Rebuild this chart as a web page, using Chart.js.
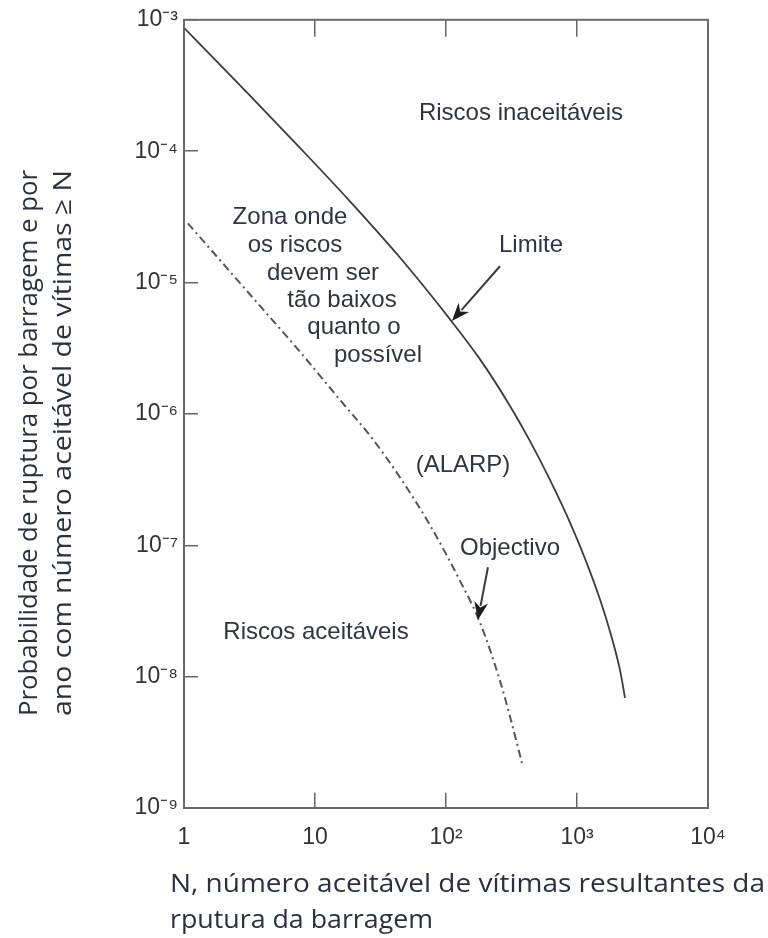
<!DOCTYPE html>
<html>
<head>
<meta charset="utf-8">
<script src="https://cdn.jsdelivr.net/npm/chart.js@4"></script>
<style>
  html, body { margin: 0; padding: 0; background: #ffffff; }
  #wrap { width: 768px; height: 938px; }
</style>
</head>
<body>
<div id="wrap"><canvas id="c" width="768" height="938"></canvas></div>
<script>
// ---- data ----
const xTickValues = [1, 10, 100, 1000, 10000];
const xTickLabels = ['1', '10', '10²', '10³', '10⁴'];
const yTickValues = [1e-3, 1e-4, 1e-5, 1e-6, 1e-7, 1e-8, 1e-9];
const yTickLabels = ['10⁻³', '10⁻⁴', '10⁻⁵', '10⁻⁶', '10⁻⁷', '10⁻⁸', '10⁻⁹'];

// "Limite" curve (solid)
const limitN = [1, 3.19, 7.68, 18.5, 44.5, 107, 182, 308, 437, 622, 885, 1151, 1499, 1787, 2130, 2325];
const limitP = [8.69e-4, 2.65e-4, 1.06e-4, 4.15e-5, 1.55e-5, 5.27e-6, 2.6e-6, 1.15e-6, 6.24e-7, 3.15e-7, 1.49e-7, 7.92e-8, 3.87e-8, 2.21e-8, 1.12e-8, 6.9e-9];

// "Objectivo" curve (dash-dot)
const objN = [1.07, 3.19, 7.68, 15.5, 26.3, 44.6, 75.5, 128, 182, 258, 313, 380];
const objP = [2.82e-5, 8.11e-6, 2.97e-6, 1.28e-6, 6.83e-7, 3.28e-7, 1.42e-7, 5.36e-8, 2.57e-8, 9.33e-9, 4.67e-9, 2.2e-9];

// text annotations
const regionLabels = ['Riscos inaceitáveis', 'Riscos aceitáveis', '(ALARP)', 'Limite', 'Objectivo'];
const alarpLines = ['Zona onde', 'os riscos', 'devem ser', 'tão baixos', 'quanto o', 'possível'];
const yTitleLines = ['Probabilidade de ruptura por barragem e por', 'ano com número aceitável de vítimas ≥ N'];
const xTitleLines = ['N, número aceitável de vítimas resultantes da', 'rputura da barragem'];

// arrows (data coordinates: from -> tip)
const arrowLimite = { fromN: 258, fromP: 1.33e-5, toN: 111, toP: 5.1e-6 };
const arrowObj = { fromN: 209, fromP: 6.8e-8, toN: 175, toP: 2.7e-8 };

// ---- presentation ----
const TEXT = '#2f3442';
const ANN_FONT = '24px "Liberation Sans", Arial, sans-serif';
const TITLE_FONT = '26px "Open Sans", "Noto Sans", sans-serif';

const toXY = (ns, ps) => ns.map((n, i) => ({ x: n, y: ps[i] }));

function fillStretched(ctx, text, x, y, width) {
  const w = ctx.measureText(text).width;
  ctx.save();
  ctx.translate(x, y);
  ctx.scale(width / w, 1);
  ctx.fillText(text, 0, 0);
  ctx.restore();
}

const annotationPlugin = {
  id: 'annotations',
  afterDatasetsDraw(chart) {
    const ctx = chart.ctx;
    const xs = chart.scales.x, ys = chart.scales.y;
    const ca = chart.chartArea;
    ctx.save();
    // plot frame
    ctx.strokeStyle = '#6a6a6a';
    ctx.lineWidth = 2;
    ctx.strokeRect(ca.left, ca.top, ca.right - ca.left, ca.bottom - ca.top);

    // annotation text
    ctx.fillStyle = TEXT;
    ctx.font = ANN_FONT;
    ctx.textAlign = 'center';
    ctx.textBaseline = 'middle';
    const pos = [[521, 113], [316, 632], [463, 465], [531, 245], [510, 548]];
    regionLabels.forEach((t, i) => ctx.fillText(t, pos[i][0], pos[i][1]));
    const zx = [290, 295, 323, 342, 354, 378];
    const zy = [217, 245, 273, 300, 327, 355];
    alarpLines.forEach((t, i) => ctx.fillText(t, zx[i], zy[i]));

    // arrows
    const drawArrow = (a) => {
      const x1 = xs.getPixelForValue(a.fromN), y1 = ys.getPixelForValue(a.fromP);
      const x2 = xs.getPixelForValue(a.toN), y2 = ys.getPixelForValue(a.toP);
      const ang = Math.atan2(y2 - y1, x2 - x1);
      const L = 18, W = 7;
      ctx.strokeStyle = '#3a3a3a';
      ctx.fillStyle = '#1e1e1e';
      ctx.lineWidth = 2;
      ctx.beginPath();
      ctx.moveTo(x1, y1);
      ctx.lineTo(x2 - Math.cos(ang) * L * 0.8, y2 - Math.sin(ang) * L * 0.8);
      ctx.stroke();
      ctx.beginPath();
      ctx.moveTo(x2, y2);
      ctx.lineTo(x2 - Math.cos(ang) * L - Math.sin(ang) * W, y2 - Math.sin(ang) * L + Math.cos(ang) * W);
      ctx.lineTo(x2 - Math.cos(ang) * L * 0.7, y2 - Math.sin(ang) * L * 0.7);
      ctx.lineTo(x2 - Math.cos(ang) * L + Math.sin(ang) * W, y2 - Math.sin(ang) * L - Math.cos(ang) * W);
      ctx.closePath();
      ctx.fill();
    };
    drawArrow(arrowLimite);
    drawArrow(arrowObj);

    // axis titles
    ctx.fillStyle = '#2a3040';
    ctx.font = TITLE_FONT;
    ctx.textAlign = 'left';
    ctx.textBaseline = 'middle';
    fillStretched(ctx, xTitleLines[0], 170, 885, 595);
    fillStretched(ctx, xTitleLines[1], 170, 921, 263);
    ctx.save();
    ctx.translate(30, 716);
    ctx.rotate(-Math.PI / 2);
    fillStretched(ctx, yTitleLines[0], 0, 0, 546);
    ctx.restore();
    ctx.save();
    ctx.translate(64, 716);
    ctx.rotate(-Math.PI / 2);
    fillStretched(ctx, yTitleLines[1], 0, 0, 546);
    ctx.restore();
    ctx.restore();
  }
};

new Chart(document.getElementById('c'), {
  type: 'line',
  data: {
    datasets: [
      {
        label: 'Limite',
        data: toXY(limitN, limitP),
        borderColor: '#3c3c3c',
        borderWidth: 1.8,
        pointRadius: 0,
        cubicInterpolationMode: 'monotone',
        fill: false
      },
      {
        label: 'Objectivo',
        data: toXY(objN, objP),
        borderColor: '#555555',
        borderWidth: 2,
        borderDash: [8, 4, 2, 4],
        pointRadius: 0,
        cubicInterpolationMode: 'monotone',
        fill: false
      }
    ]
  },
  options: {
    responsive: false,
    animation: false,
    events: [],
    layout: { padding: { top: 18, right: 60, bottom: 0, left: 0 } },
    plugins: { legend: { display: false }, tooltip: { enabled: false }, title: { display: false } },
    scales: {
      x: {
        type: 'logarithmic',
        min: 1, max: 10000,
        afterBuildTicks: (s) => { s.ticks = xTickValues.map(v => ({ value: v })); },
        afterFit: (s) => { s.height = 130; },
        ticks: {
          autoSkip: false, maxRotation: 0, padding: 16,
          color: '#333', font: { family: '"Liberation Sans", Arial, sans-serif', size: 23 },
          callback: (v) => xTickLabels[xTickValues.indexOf(v)]
        },
        grid: { drawTicks: false, drawOnChartArea: true, color: '#666', lineWidth: 1.5 },
        border: { display: false, dash: [17, 756] }
      },
      y: {
        type: 'logarithmic',
        min: 1e-9, max: 1e-3,
        afterBuildTicks: (s) => { s.ticks = yTickValues.map(v => ({ value: v })); },
        afterFit: (s) => { s.width = 184; },
        ticks: {
          autoSkip: false, padding: 6,
          color: '#333', font: { family: '"Liberation Sans", Arial, sans-serif', size: 23 },
          callback: (v) => yTickLabels[yTickValues.indexOf(v)]
        },
        grid: { drawTicks: false, drawOnChartArea: true, color: '#666', lineWidth: 1.5 },
        border: { display: false, dash: [14, 2000] }
      }
    }
  },
  plugins: [annotationPlugin]
});
</script>
</body>
</html>
